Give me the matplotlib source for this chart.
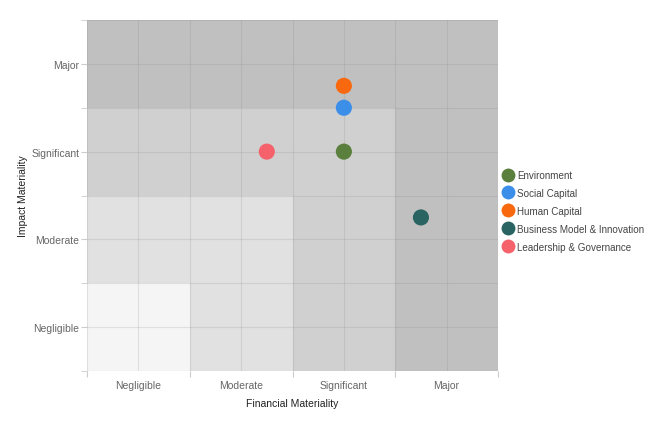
import matplotlib.pyplot as plt
from matplotlib.patches import Rectangle
from matplotlib.lines import Line2D

plt.rcParams['font.family'] = ['Liberation Sans', 'DejaVu Sans']

# category labels on both axes
levels = ['Negligible', 'Moderate', 'Significant', 'Major']

# topics with (financial, impact) positions in category units
topics = ['Environment', 'Social Capital', 'Human Capital',
          'Business Model & Innovation', 'Leadership & Governance']
financial = [2.5, 2.5, 2.5, 3.25, 1.75]
impact = [2.5, 3.0, 3.25, 1.75, 2.5]
colors = ['#5b7f3d', '#3b8fe8', '#f8690f', '#2a6462', '#f6626c']

# nested background zones: (size, colour)
zones = [(4, '#c0c0c0'), (3, '#d0d0d0'), (2, '#e1e1e1'), (1, '#f5f5f5')]

fig = plt.figure(figsize=(6.5, 4.27), dpi=100)
ax = fig.add_axes([87 / 650, 1 - 372 / 427, 411 / 650, 351 / 427])

for size, c in zones:
    ax.add_patch(Rectangle((0, 0), size, size, facecolor=c, edgecolor='none', zorder=0))

# grid every half unit
for v in [i * 0.5 for i in range(9)]:
    ax.axvline(v, color='#888888', alpha=0.2, lw=0.8, zorder=1)
    ax.axhline(v, color='#888888', alpha=0.2, lw=0.8, zorder=1)

for x, y, c in zip(financial, impact, colors):
    ax.scatter(x, y, s=135, color=c, edgecolors='none', zorder=3)

ax.set_xlim(0, 4)
ax.set_ylim(0, 4)
for s in ax.spines.values():
    s.set_visible(False)

ax.set_xticks([0, 1, 2, 3, 4])
ax.set_xticklabels([])
ax.set_xticks([0.5, 1.5, 2.5, 3.5], minor=True)
ax.set_xticklabels(levels, minor=True)
ax.tick_params(axis='x', which='major', length=4.5, color='#cccccc')
ax.tick_params(axis='x', which='minor', length=0, pad=6.5, labelsize=7.5, labelcolor='#666666')

ax.set_yticks([0.5, 1.5, 2.5, 3.5])
ax.set_yticklabels(levels)
ax.set_yticks([0, 1, 2, 3, 4], minor=True)
ax.tick_params(axis='y', which='both', length=4.5, color='#cccccc', labelsize=7.5,
               labelcolor='#666666', pad=1)

ax.set_xlabel('Financial Materiality', fontsize=7.5, color='#222222')
ax.set_ylabel('Impact Materiality', fontsize=7.5, color='#222222')
ax.xaxis.set_label_coords(0.5, -0.077)
ax.yaxis.set_label_coords(-0.144, 0.5)

handles = [Line2D([0], [0], marker='o', linestyle='none', markersize=10,
                  markerfacecolor=c, markeredgecolor='none') for c in colors]
fig.legend(handles, topics, loc='upper left', bbox_to_anchor=(502 / 650, 1 - 171 / 427),
           frameon=False, fontsize=7.1, labelcolor='#444444', handletextpad=0.35,
           handlelength=1.2, labelspacing=0.8, borderaxespad=0, borderpad=0)

fig.savefig('out.png', dpi=100)
